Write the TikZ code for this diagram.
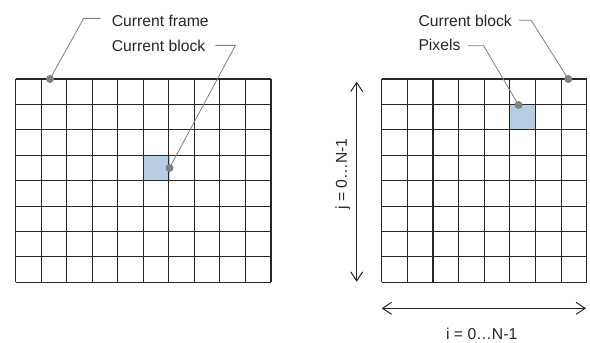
\documentclass[tikz,border=0pt]{standalone}
\usepackage{fontspec}
\setmainfont{Liberation Sans}
\usetikzlibrary{arrows.meta, positioning}
\definecolor{blockblue}{HTML}{B8CCE4}
\definecolor{leadgray}{HTML}{808080}
\definecolor{inkgray}{HTML}{262626}

\begin{document}
\begin{tikzpicture}[
  x=1pt, y=-1pt,
  cellline/.style={draw=inkgray, line width=1.1pt},
  lead/.style={draw=leadgray, line width=0.8pt},
  dot/.style={circle, fill=leadgray, inner sep=0pt, minimum size=8pt},
  note/.style={font=\fontsize{15.7}{18}\selectfont, text=inkgray, inner sep=0pt,
               text height=11.5pt, text depth=0pt, anchor=base west},
  dimarrow/.style={{Straight Barb[length=9pt, width=12pt]}-{Straight Barb[length=9pt, width=12pt]},
                   draw=inkgray, line width=1pt}
]
\useasboundingbox (0,0) rectangle (590,343);

% current frame (10 x 8 blocks)
\fill[blockblue] (144.0,155.2) rectangle ++(25.5,25.4);
\foreach \i in {0,...,10}
  \draw[cellline] ({15.7+25.53*\i},79) -- ++(0,203.3);
\foreach \j in {0,...,8}
  \draw[cellline] (15.7,{79+25.41*\j}) -- ++(255.3,0);

% current block (8 x 8 pixels)
\fill[blockblue] (509.8,104.4) rectangle ++(25.6,25.4);
\foreach \i in {0,...,8}
  \draw[cellline] ({381.7+25.625*\i},79) -- ++(0,203.3);
\foreach \j in {0,...,8}
  \draw[cellline] (381.7,{79+25.41*\j}) -- ++(205,0);

% labels
\node[note] (frame) at (111.7,26.5) {Current frame};
\node[note, below right=12.7pt and 0pt of frame.south west] (block) {Current block};
\node[note] (rblock) at (418.3,26) {Current block};
\node[note, below right=12.5pt and 0pt of rblock.south west] (pixels) {Pixels};

% leader dots
\node[dot] (framedot) at (50,79) {};
\node[dot] (blockdot) at (169.5,168) {};
\node[dot] (rblockdot) at (568.3,79) {};
\node[dot] (pixdot) at (518.5,105) {};

\draw[lead] ([xshift=-11pt, yshift=2.4pt]frame.west) -- ++(-17,0) -- (framedot.center);
\draw[lead] ([xshift=10pt]block.east) -- ++(20,0) -- (blockdot.center);
\draw[lead] ([xshift=7pt]rblock.east) -- ++(12,0) -- (rblockdot.center);
\draw[lead] ([xshift=7pt, yshift=-1pt]pixels.east) -- ++(16,0) -- (pixdot.center);

% index ranges
\coordinate (jtop) at (356.7,81.7);
\coordinate (jbot) at (356.7,281.7);
\coordinate (ileft) at (381.7,308.3);
\coordinate (iright) at (586,308.3);
\draw[dimarrow] (jtop) -- (jbot);
\draw[dimarrow] (ileft) -- (iright);
\node[note, rotate=90, anchor=base] (jlabel) at (346.8,174) {j = 0…N-1};
\node[note, anchor=base] (ilabel) at (481.7,339.3) {i = 0…N-1};
\end{tikzpicture}
\end{document}
